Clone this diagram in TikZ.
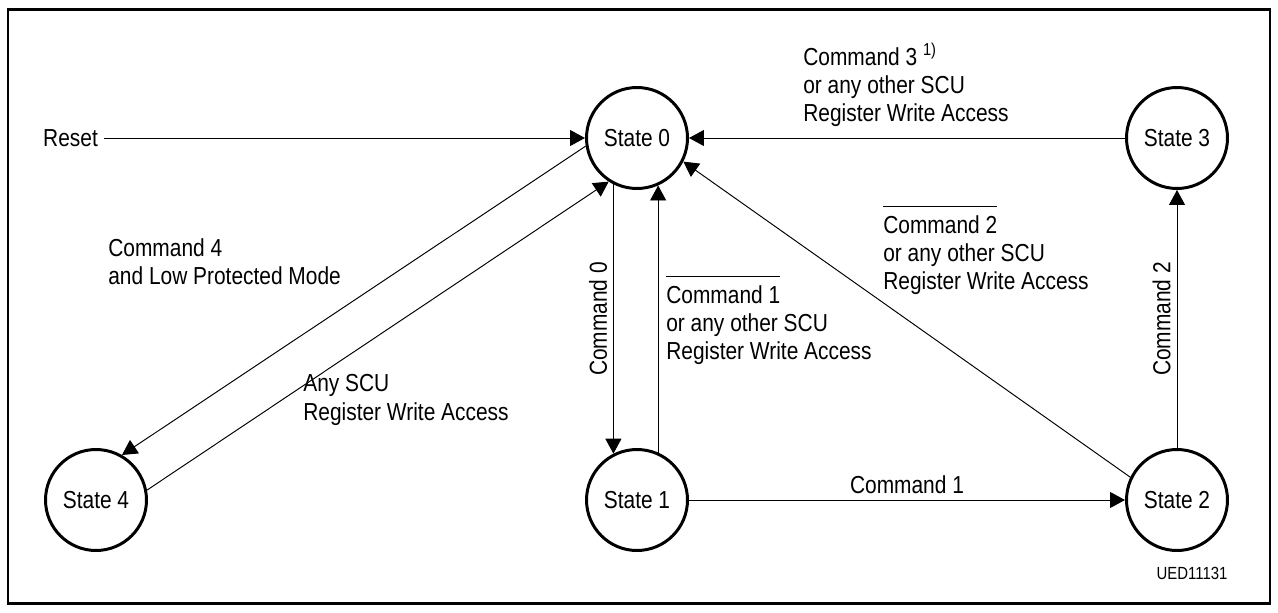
\documentclass[tikz,border=0pt]{standalone}
\usepackage{amsmath}
\usepackage{fontspec}
\setmainfont{Liberation Sans}[FakeStretch=0.85]
\usepackage{tikz}
\usetikzlibrary{arrows.meta}
% overlined command name
\newcommand{\ovlcmd}[1]{$\overline{\mbox{\rule{0pt}{0.95em}#1}}$}
\tikzset{
  stateNode/.style={circle, draw, line width=1.7pt,
    minimum size=2.02cm, inner sep=0pt},
  transArrow/.style={line width=0.55pt,
    -{Triangle[length=3mm, width=3.2mm]}},
  blockLabel/.style={align=left, anchor=west, inner sep=0pt},
  sideLabel/.style={midway, rotate=90, anchor=south}
}
\begin{document}
\begin{tikzpicture}[x=0.02cm, y=-0.02cm,
  font=\fontsize{14}{16}\selectfont]
  \useasboundingbox (0,0) rectangle (1278,612);
  \draw[line width=1.3pt] (8,9.5) rectangle (1270,603.5);

  % states
  \node[stateNode] (st0) at (637,138) {State 0};
  \node[stateNode] (st1) at (637,500) {State 1};
  \node[stateNode] (st2) at (1177,500) {State 2};
  \node[stateNode] (st3) at (1177,138) {State 3};
  \node[stateNode] (st4) at (96,500) {State 4};
  \node[anchor=west] (reset) at (37,138) {Reset};

  % transitions
  \draw[transArrow] (reset) -- (st0);
  \draw[transArrow] (st3) -- (st0);
  \draw[transArrow] (st0.243) -- (st1.117)
    node[sideLabel] {Command 0};
  \draw[transArrow] (st1.66) -- (st0.294);
  \draw[transArrow] (st1) -- (st2)
    node[midway, above, inner sep=3.5pt] {Command 1};
  \draw[transArrow] (st2) -- (st3)
    node[sideLabel] {Command 2};
  \draw[transArrow] (st2.154) -- (st0.333);
  \draw[transArrow] (st0.189) -- (st4.60);
  \draw[transArrow] (st4.11) -- (st0.237);

  % labels
  \node[blockLabel] (lblThree) at (803,85)
    {Command 3 \textsuperscript{1)}\\or any other SCU\\Register Write Access};
  \node[blockLabel] (lblTwo) at (883,250)
    {\ovlcmd{Command 2}\\or any other SCU\\Register Write Access};
  \node[blockLabel] (lblOne) at (666,320)
    {\ovlcmd{Command 1}\\or any other SCU\\Register Write Access};
  \node[blockLabel] (lblFour) at (108,262)
    {Command 4\\and Low Protected Mode};
  \node[blockLabel] (lblAny) at (303,400)
    {Any SCU\\Register Write Access};
  \node[font=\fontsize{10}{12}\selectfont] (figId) at (1192,573) {UED11131};
\end{tikzpicture}
\end{document}
